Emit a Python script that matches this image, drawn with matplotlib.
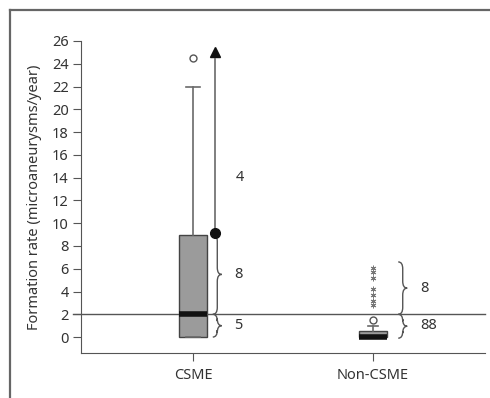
import matplotlib.pyplot as plt
from matplotlib.path import Path
from matplotlib.patches import PathPatch
from matplotlib.lines import Line2D

plt.rcParams['font.family'] = ['Noto Sans', 'DejaVu Sans']

# Box summary for each group
groups = ['CSME', 'Non-CSME']
q1 = [0, 0]
median = [2, 0]
q3 = [9, 0.5]
whisker_low = [0, 0]
whisker_high = [22, 1]
outliers = [[24.5], [1.5]]

# Extreme values in the Non-CSME group (drawn as asterisks)
extremes_noncsme = [2.8, 3.2, 3.7, 4.2, 5.2, 5.7, 6.1]

# Arrow for values beyond the axis in the CSME group
arrow_start = 9.15
arrow_end = 25.0

# Brace ranges and counts
braces = [
    (1.11, 2.0, 9.0, '8', 5.5),
    (1.11, 0.0, 2.0, '5', 1.0),
    (2.14, 2.0, 6.6, '8', 4.3),
    (2.14, -0.1, 2.0, '88', 1.0),
]
arrow_count = '4'
arrow_count_y = 14

threshold = 2

ink = '#333333'
line_gray = '#6a6a6a'

fig = plt.figure(figsize=(4.9, 3.98), dpi=100)
ax = fig.add_axes([81 / 490, 45 / 398, 404 / 490, 312 / 398])

stats = []
for i, g in enumerate(groups):
    stats.append(dict(label=g, q1=q1[i], med=median[i], q3=q3[i],
                      whislo=whisker_low[i], whishi=whisker_high[i],
                      fliers=outliers[i]))

ax.bxp(stats, positions=[1, 2], widths=0.16, capwidths=[0.08, 0.06],
       patch_artist=True, showfliers=True,
       boxprops=dict(facecolor='#9b9b9b', edgecolor='#444444', linewidth=1.0),
       medianprops=dict(color='#111111', linewidth=4, solid_capstyle='butt'),
       whiskerprops=dict(color=line_gray, linewidth=1.2),
       capprops=dict(color=line_gray, linewidth=1.2),
       flierprops=dict(marker='o', markerfacecolor='white',
                       markeredgecolor='#555555', markersize=5))

ax.plot([2] * len(extremes_noncsme), extremes_noncsme, linestyle='none',
        marker=(6, 2, 0), markersize=4, color='#777777', markeredgewidth=0.7)

# arrow above the CSME box: grey shaft, black head, black dot at the base
ax.plot([1.122, 1.122], [arrow_start, arrow_end - 0.6], color=line_gray,
        lw=1.2)
ax.plot([1.122], [arrow_end], marker='^', color='#111111', markersize=7)
ax.plot([1.122], [arrow_start], marker='o', color='#111111', markersize=7)
ax.text(1.24, arrow_count_y, arrow_count, fontsize=10.5, color=ink,
        va='center', ha='left')

# curly braces with counts
def brace(x0, y0, y1, w=0.05, r=0.6):
    xm = x0 + w / 2
    ym = (y0 + y1) / 2
    verts = [(x0, y1), (xm, y1), (xm, y1 - r),
             (xm, ym + r),
             (xm, ym), (x0 + w, ym),
             (xm, ym), (xm, ym - r),
             (xm, y0 + r),
             (xm, y0), (x0, y0)]
    codes = [Path.MOVETO, Path.CURVE3, Path.CURVE3,
             Path.LINETO,
             Path.CURVE3, Path.CURVE3,
             Path.CURVE3, Path.CURVE3,
             Path.LINETO,
             Path.CURVE3, Path.CURVE3]
    ax.add_patch(PathPatch(Path(verts, codes), facecolor='none',
                           edgecolor='#555555', lw=1.0))

for x0, y0, y1, label, ly in braces:
    brace(x0, y0, y1)
    ax.text(x0 + 0.12, ly, label, fontsize=10.5, color=ink,
            va='center', ha='left')

# reference line at 2
ax.axhline(threshold, xmin=-0.02, xmax=1, color='#555555', lw=1.0,
           clip_on=False)

ax.set_xlim(0.378, 2.622)
ax.set_ylim(-1.4, 26)
ax.set_yticks(range(0, 27, 2))
ax.spines['top'].set_visible(False)
ax.spines['right'].set_visible(False)
ax.spines['left'].set_color('#555555')
ax.spines['bottom'].set_color('#555555')
ax.spines['left'].set_bounds(-1.4, 26)
ax.tick_params(axis='both', direction='out', length=6, color='#555555',
               labelsize=10.5, labelcolor=ink, width=0.8)
ax.tick_params(axis='y', pad=3)
ax.tick_params(axis='x', pad=5)
ax.set_xticks([1, 2])
ax.set_xticklabels(groups)
ax.set_ylabel('Formation rate (microaneurysms/year)', fontsize=10.5,
              color=ink, labelpad=7)

# outer frame
fig.add_artist(Line2D([10 / 490, 10 / 490], [0, 1 - 10 / 398],
                      transform=fig.transFigure, color='#666666', lw=1.6))
fig.add_artist(Line2D([10 / 490, 1], [1 - 10 / 398, 1 - 10 / 398],
                      transform=fig.transFigure, color='#666666', lw=1.6))

fig.savefig('out.png', dpi=100)
